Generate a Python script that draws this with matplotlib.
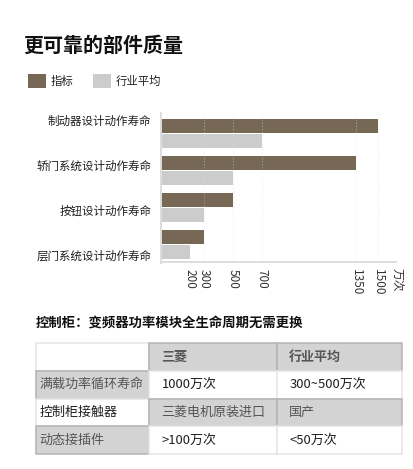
import matplotlib
matplotlib.use("Agg")
import matplotlib.pyplot as plt
import numpy as np

plt.rcParams['font.family'] = ['Noto Sans CJK SC', 'DejaVu Sans']

# data
categories = ["制动器设计动作寿命", "轿门系统设计动作寿命", "按钮设计动作寿命", "层门系统设计动作寿命"]
spec_vals = [1500, 1350, 500, 300]
avg_vals = [700, 500, 300, 200]
tick_vals = [200, 300, 500, 700, 1350, 1500]
series_names = ["指标", "行业平均"]

table_header = ["", "三菱", "行业平均"]
table_rows = [
    ["满载功率循环寿命", "1000万次", "300~500万次"],
    ["控制柜接触器", "三菱电机原装进口", "国产"],
    ["动态接插件", ">100万次", "<50万次"],
]

W, H = 414, 469
DARK = "#776856"
LIGHT = "#cccccc"
CELL_GRAY = "#d3d3d3"

fig = plt.figure(figsize=(W / 100, H / 100), dpi=100)
fig.patch.set_facecolor("white")


def fx(px):
    return px / W


def fy(py):
    return 1 - py / H


# bar chart
ax = fig.add_axes([fx(161), fy(262.5), fx(396) - fx(161), (262.5 - 113) / H])
y = np.arange(len(categories))
bh = 0.38
b1 = ax.barh(y - 0.2, spec_vals, height=bh, color=DARK, zorder=2)
b2 = ax.barh(y + 0.2, avg_vals, height=bh, color=LIGHT, zorder=2)
ax.set_xlim(0, 1500 * 235 / 217)
ax.set_ylim(3.486, -0.554)

# faint dotted gridlines, lying over the bars like in the original
for v in tick_vals[1:]:
    ax.axvline(v, color="#e0e0e0", lw=0.8, ls=":", alpha=0.45, zorder=3)

ax.set_xticks(tick_vals)
ax.set_xticklabels([str(v) for v in tick_vals], rotation=270, fontsize=8.5, color="#333333")
ax.tick_params(axis="x", length=0, pad=5)

label_pos = np.linspace(-0.365, 0.284 + 3, 4)
ax.set_yticks(label_pos)
ax.set_yticklabels(categories, fontsize=8.3, color="#1f1f1f")
ax.tick_params(axis="y", length=0, pad=7)

for s in ["top", "right"]:
    ax.spines[s].set_visible(False)
for s in ["left", "bottom"]:
    ax.spines[s].set_color("#dddddd")
    ax.spines[s].set_linewidth(1.4)

fig.text(fx(396), fy(280), "万次", rotation=270, ha="center", va="center",
         fontsize=8.5, color="#333333")

# title and legend
fig.text(fx(23), fy(45.5), "更可靠的部件质量", fontsize=14.4, fontweight="bold",
         color="#111111", ha="left", va="center")
fig.legend([b1, b2], series_names, loc="center left",
           bbox_to_anchor=(fx(28), fy(81)), ncol=2, frameon=False,
           fontsize=8.2, handlelength=1.55, handleheight=1.6,
           handletextpad=0.45, columnspacing=1.7, borderpad=0, borderaxespad=0,
           labelcolor="#222222")

# table section
fig.text(fx(36), fy(324), "控制柜：变频器功率模块全生命周期无需更换", fontsize=9.6,
         fontweight="bold", color="#111111", ha="left", va="center")

tax = fig.add_axes([fx(35.7), fy(454.3), fx(401.7) - fx(35.7), (454.3 - 342.7) / H])
tax.axis("off")
cell_text = [table_header] + table_rows
gray_map = [
    [False, True, True],
    [True, False, False],
    [False, True, True],
    [True, False, False],
]
colours = [[CELL_GRAY if g else "white" for g in row] for row in gray_map]
col_w = [113.6, 128.0, 124.4]
col_w = [c / sum(col_w) for c in col_w]
tbl = tax.table(cellText=cell_text, cellColours=colours, colWidths=col_w,
                cellLoc="left", bbox=[0, 0, 1, 1])
tbl.auto_set_font_size(False)
tbl.set_fontsize(9.4)

# gray cells on top so their darker borders show
for (r, c), cell in tbl.get_celld().items():
    g = gray_map[r][c]
    cell.set_edgecolor("#b3b3b3" if g else "#e6e6e6")
    cell.set_linewidth(1.1)
    cell.set_zorder(2 if g else 1)
    cell.PAD = 0.035 if c == 0 else 0.095
    txt = cell.get_text()
    if g:
        txt.set_color("#555555")
    else:
        txt.set_color("#1f1f1f")
    if r == 0:
        txt.set_fontweight("bold")
        txt.set_color("#555555")

fig.savefig("out.png", dpi=100, facecolor="white")
